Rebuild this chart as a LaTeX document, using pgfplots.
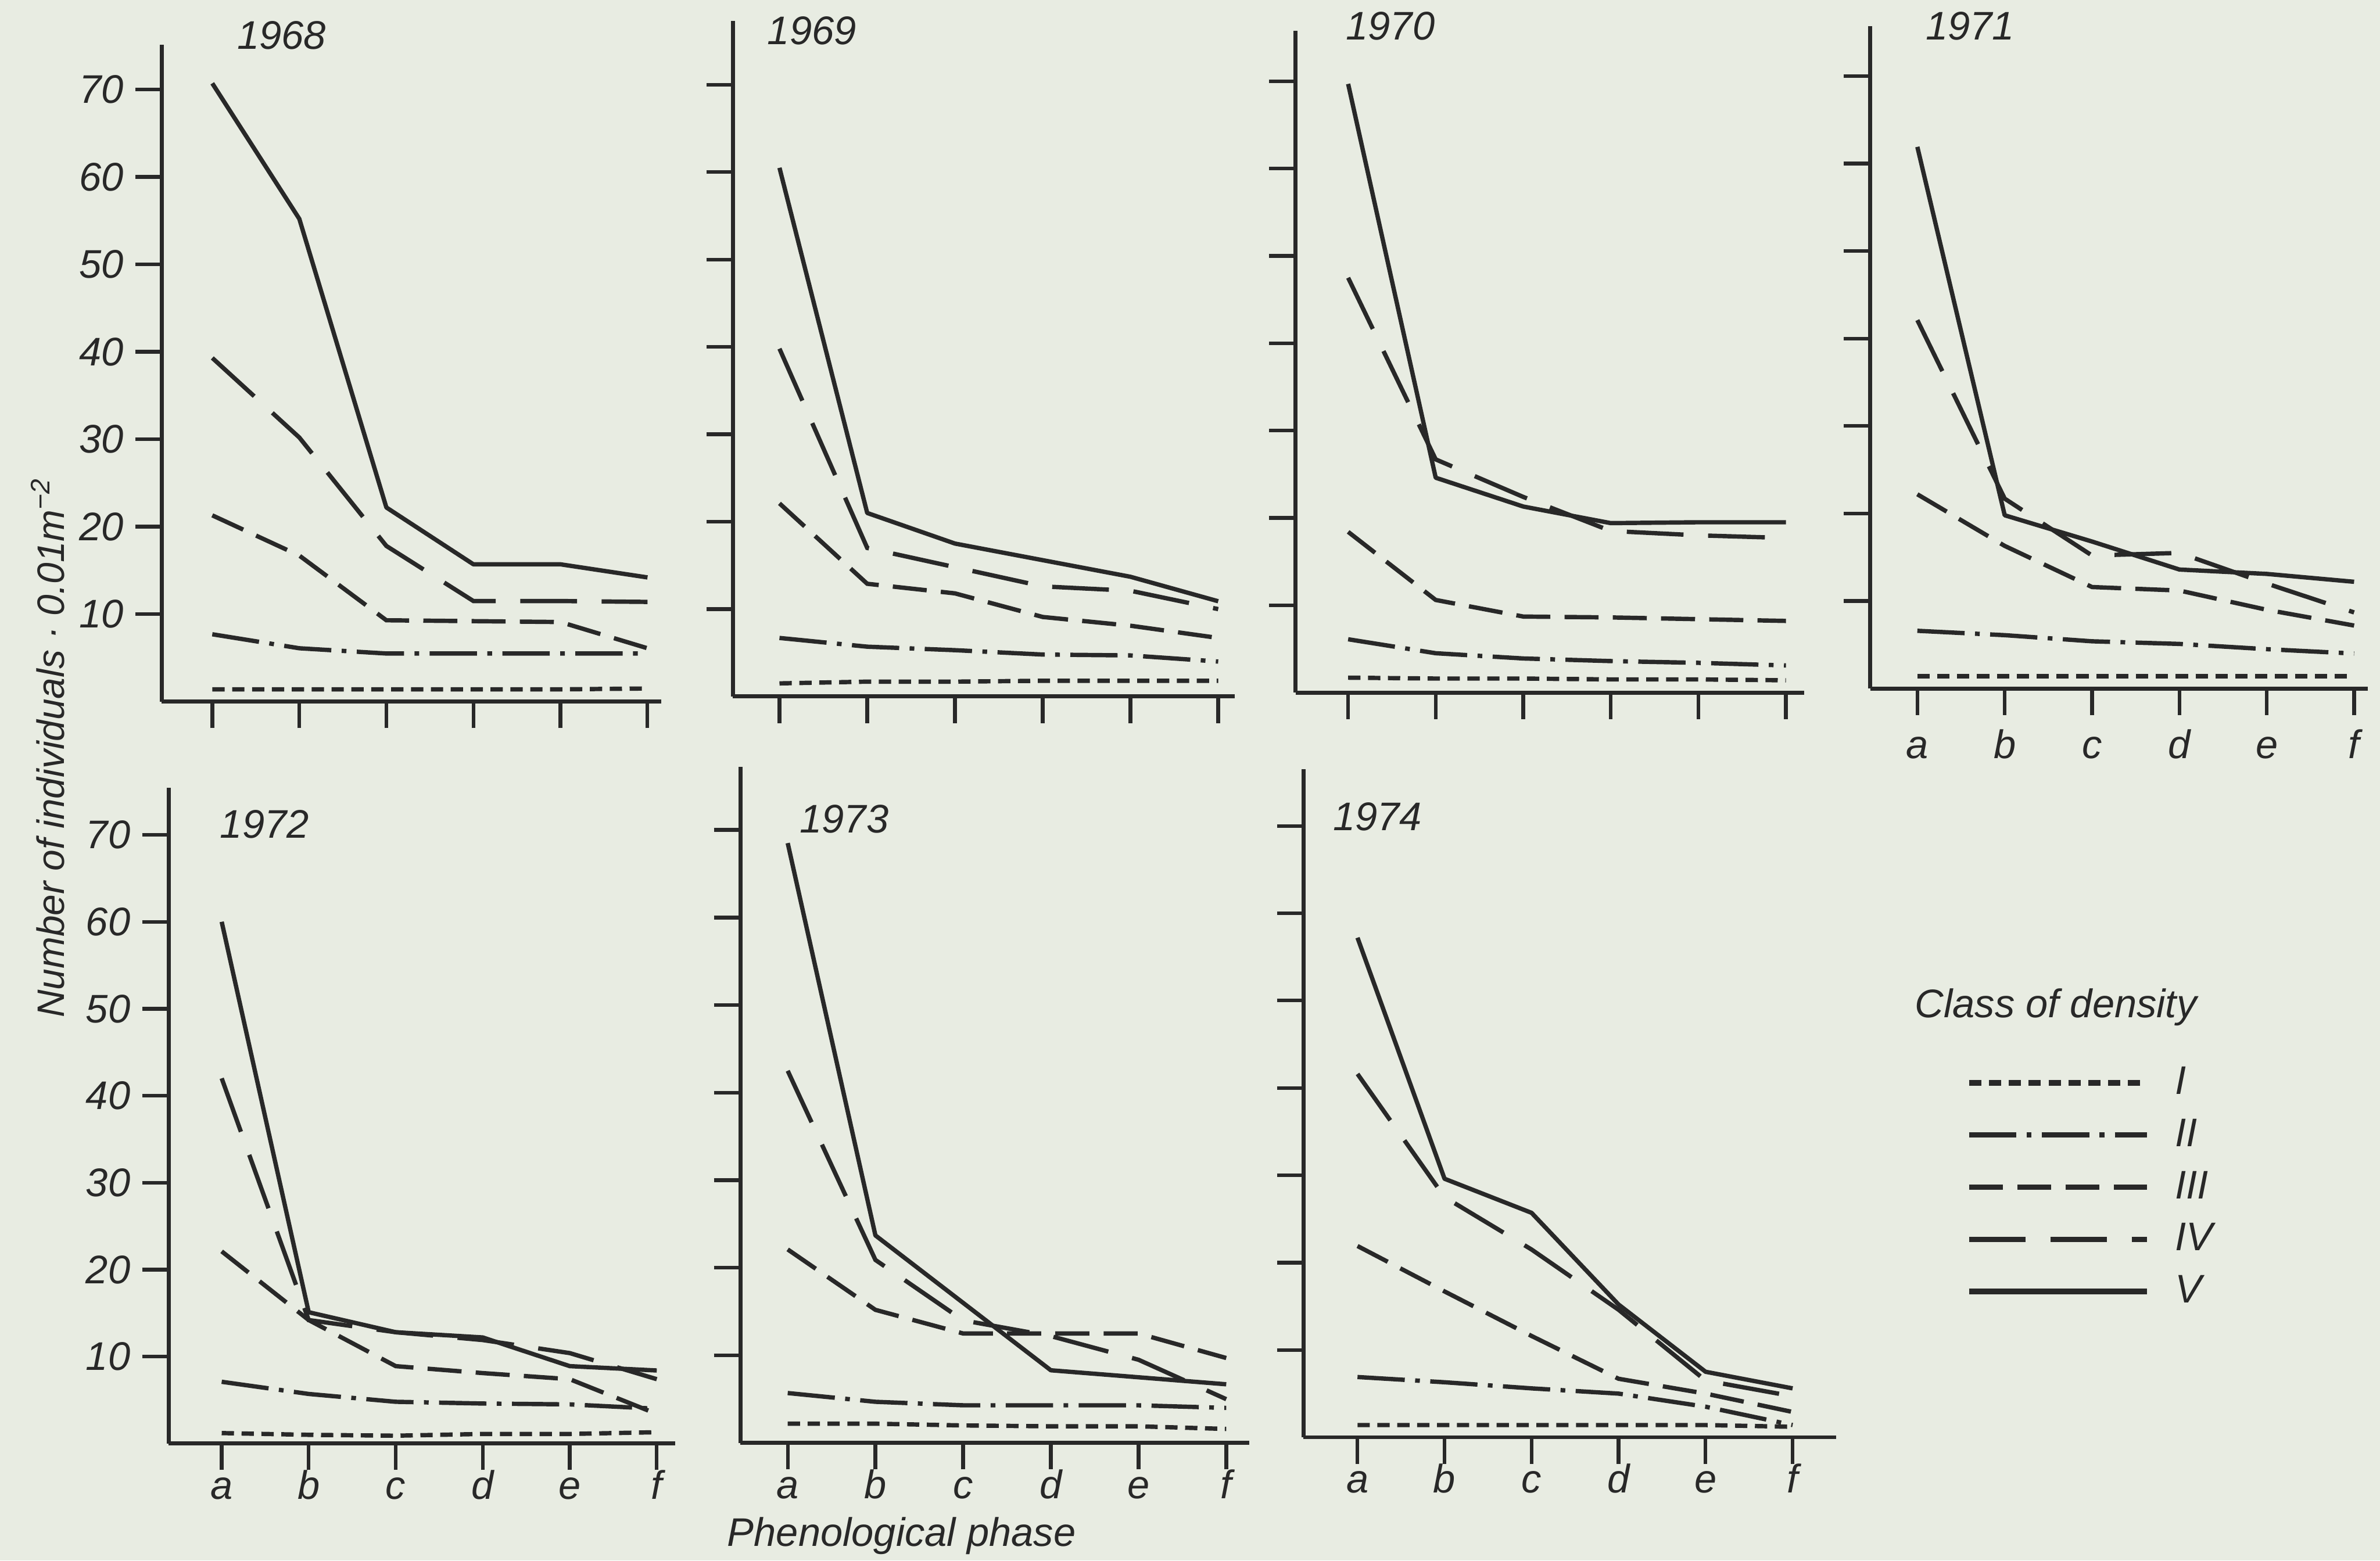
\documentclass[border=0pt]{standalone}
\usepackage{fontspec}
\setmainfont{Liberation Sans}
\usepackage{pgfplots}
\pgfplotsset{compat=1.18}
\usepackage{pgfplotstable}
\definecolor{paper}{RGB}{232,236,226}
\definecolor{ink}{RGB}{40,40,40}

% columns: phase index, density classes I..V
\pgfplotstableread{
x I II III IV V
0 1.4 7.7 21.3 39.3 70.7
1 1.4 6.1 16.7 30.2 55.2
2 1.4 5.5 9.3 17.8 22.2
3 1.4 5.5 9.2 11.5 15.7
4 1.4 5.5 9.1 11.5 15.7
5 1.5 5.5 6.1 11.4 14.2
}\tA
\pgfplotstableread{
x I II III IV V
0 1.5 6.7 22.1 39.8 60.5
1 1.7 5.7 12.9 17.0 21.0
2 1.7 5.3 11.8 14.8 17.5
3 1.8 4.8 9.1 12.6 15.6
4 1.8 4.7 8.1 12.1 13.7
5 1.8 4.0 6.7 10.0 10.9
}\tB
\pgfplotstableread{
x I II III IV V
0 1.7 6.1 18.4 47.5 69.7
1 1.6 4.5 10.6 26.7 24.6
2 1.6 3.9 8.7 22.4 21.3
3 1.5 3.6 8.6 18.5 19.4
4 1.5 3.4 8.4 18.0 19.5
5 1.4 3.1 8.2 17.7 19.5
}\tC
\pgfplotstableread{
x I II III IV V
0 1.4 6.6 22.2 42.1 61.9
1 1.4 6.1 16.3 21.7 19.8
2 1.4 5.4 11.6 15.2 16.8
3 1.4 5.1 11.2 15.5 13.6
4 1.4 4.5 9.0 12.0 13.1
5 1.4 4.0 7.2 8.7 12.2
}\tD
\pgfplotstableread{
x I II III IV V
0 1.2 7.1 22.1 42.0 60.0
1 1.0 5.7 14.2 14.2 15.1
2 0.9 4.8 8.9 12.8 12.8
3 1.1 4.6 8.1 11.9 12.2
4 1.1 4.5 7.4 10.4 8.9
5 1.3 4.0 3.4 7.4 8.4
}\tE
\pgfplotstableread{
x I II III IV V
0 2.2 5.7 22.1 42.5 68.5
1 2.2 4.7 15.2 20.9 23.7
2 2.0 4.3 12.5 14.0 16.0
3 1.9 4.3 12.5 12.2 8.3
4 1.9 4.3 12.5 9.5 7.5
5 1.6 4.0 9.7 5.0 6.7
}\tF
\pgfplotstableread{
x I II III IV V
0 1.4 6.9 21.9 41.6 57.2
1 1.4 6.3 16.7 27.5 29.6
2 1.4 5.6 11.6 21.5 25.7
3 1.4 5.0 6.7 14.6 15.2
4 1.4 3.5 5.0 6.5 7.5
5 1.2 1.4 2.9 4.7 5.6
}\tG

\newcommand{\fnt}{\fontsize{11.5}{14}\selectfont\itshape}
\newcommand{\tfnt}{\fontsize{12}{14}\selectfont\itshape}

\pgfplotsset{
  panel/.style={
    scale only axis, anchor=south west, clip=false,
    axis lines=left, axis line style={-, line width=1.2pt, draw=ink},
    ymin=0, xtick={0,...,5}, ytick={10,20,...,70},
    xticklabels={a,b,c,d,e,f},
    tick align=outside, major tick length=2.8mm,
    every tick/.style={draw=ink, line width=1.1pt},
    /pgf/number format/assume math mode=true,
    ticklabel style={font=\tfnt, text=ink},
    xticklabel style={anchor=north, inner sep=0pt, text height=3mm, text depth=0pt},
  },
  noy/.style={yticklabels={}},
  nox/.style={xticklabels={}},
  sI/.style={draw=ink, line width=1.3pt, dash pattern=on 1.3mm off 0.8mm},
  sII/.style={draw=ink, line width=1.3pt, dash pattern=on 5mm off 1.1mm on 0.5mm off 1.1mm},
  sIII/.style={draw=ink, line width=1.3pt, dash pattern=on 3.6mm off 1.5mm},
  sIV/.style={draw=ink, line width=1.3pt, dash pattern=on 6mm off 2.6mm},
  sV/.style={draw=ink, line width=1.3pt, line join=round},
}

\newcommand{\five}[1]{%
  \addplot[sI] table[x=x,y=I]{#1};
  \addplot[sII] table[x=x,y=II]{#1};
  \addplot[sIII] table[x=x,y=III]{#1};
  \addplot[sIV] table[x=x,y=IV]{#1};
  \addplot[sV] table[x=x,y=V]{#1};
}

\begin{document}
\begin{tikzpicture}[font=\fnt, text=ink]
\useasboundingbox (0,0) rectangle (251.52mm,164.94mm);
\fill[paper] (0,0) rectangle (251.52mm,164.94mm);

% 1968
\begin{axis}[panel, nox, at={(17.10mm,90.78mm)}, width=52.80mm, height=69.42mm,
  xmin=-0.58, xmax=5.16, ymax=75.1]
\five{\tA}
\end{axis}
% 1969
\begin{axis}[panel, nox, noy, at={(77.46mm,91.32mm)}, width=53.04mm, height=71.40mm,
  xmin=-0.53, xmax=5.19, ymax=77.3]
\five{\tB}
\end{axis}
% 1970
\begin{axis}[panel, nox, noy, at={(136.92mm,91.74mm)}, width=53.76mm, height=69.96mm,
  xmin=-0.60, xmax=5.21, ymax=75.8]
\five{\tC}
\end{axis}
% 1971
\begin{axis}[panel, noy, at={(197.64mm,92.16mm)}, width=52.62mm, height=70.02mm,
  xmin=-0.54, xmax=5.16, ymax=75.7,
  xticklabel style={yshift=-1.5mm}]
\five{\tD}
\end{axis}
% 1972
\begin{axis}[panel, at={(17.82mm,12.36mm)}, width=53.52mm, height=69.30mm,
  xmin=-0.61, xmax=5.21, ymax=75.4]
\five{\tE}
\end{axis}
% 1973
\begin{axis}[panel, noy, at={(78.24mm,12.42mm)}, width=53.76mm, height=71.46mm,
  xmin=-0.54, xmax=5.26, ymax=77.2]
\five{\tF}
\end{axis}
% 1974 (with legend)
\begin{axis}[panel, noy, at={(137.76mm,13.02mm)}, width=56.28mm, height=70.62mm,
  xmin=-0.62, xmax=5.50, ymax=76.5,
  legend image code/.code={\draw[#1, line width=1.7pt] (0mm,0mm) -- (18.8mm,0mm);},
  legend style={at={(1.243,0.560)}, anchor=north west, draw=none, fill=none,
    inner sep=0pt, row sep=1.52mm, column sep=2.7mm, font=\tfnt,
    nodes={inner sep=0pt, text height=3.2mm, text depth=0.8mm}},
  legend cell align=left]
\five{\tG}
\legend{I,II,III,IV,V}
\end{axis}

% panel titles
\begin{scope}[font=\tfnt]
\node at (29.76mm,161.22mm) {1968};
\node at (85.80mm,161.70mm) {1969};
\node at (146.94mm,162.18mm) {1970};
\node at (208.20mm,162.18mm) {1971};
\node at (27.96mm,77.82mm) {1972};
\node at (89.22mm,78.36mm) {1973};
\node at (145.56mm,78.60mm) {1974};
\node at (217.26mm,58.50mm) {Class of density};
\node[anchor=base] at (95.28mm,1.5mm) {Phenological phase};
\end{scope}
\node[rotate=90] at (5.04mm,85.92mm) {Number of individuals · 0.01m\textsuperscript{−2}};
\end{tikzpicture}
\end{document}
